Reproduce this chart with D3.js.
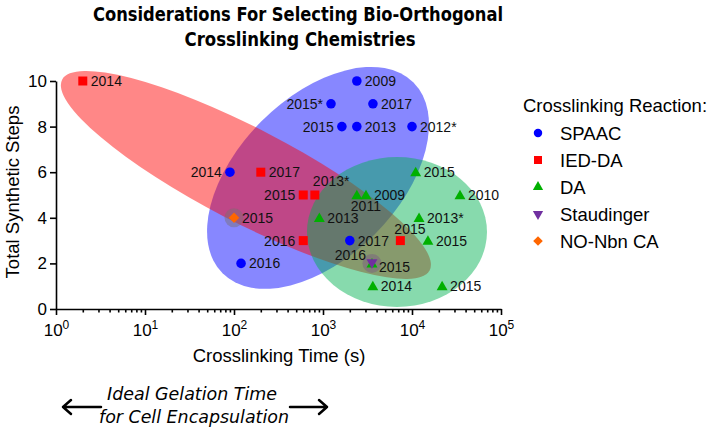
<!DOCTYPE html>
<html><head><meta charset="utf-8">
<script src="https://cdn.jsdelivr.net/npm/d3@7"></script>
<style>
html,body{margin:0;padding:0;background:#fff;}
svg{display:block;font-family:"Liberation Sans",Arial,sans-serif;}
</style></head>
<body>
<svg id="chart" width="712" height="430"></svg>
<script>
// ---------- DATA ----------
const seriesNames = ["SPAAC", "IED-DA", "DA", "Staudinger", "NO-Nbn CA"];
const spaacTime  = [90, 2400, 1230, 3640, 1630, 2400, 10000, 2000, 120];
const spaacSteps = [6, 10, 9, 9, 8, 8, 8, 3, 2];
const spaacYear  = ["2014","2009","2015*","2017","2015","2013","2012*","2017","2016"];
const spaacSide  = ["l","r","l","r","l","r","r","r","r"];

const iedTime  = [2, 200, 600, 810, 600, 7400];
const iedSteps = [10, 6, 5, 5, 3, 3];
const iedYear  = ["2014","2017","2015","2013*","2016","2015"];
const iedSide  = ["r","r","l","tr","l","tl"];

const daTime  = [11000, 3040, 2400, 34600, 910, 12000, 15100, 3550, 3630, 21800];
const daSteps = [6, 5, 5, 5, 4, 4, 3, 2, 1, 1];
const daYear  = ["2015","2009","2011","2010","2013","2013*","2015","2015","2014","2015"];
const daSide  = ["r","r","b","r","r","r","r","br","r","r"];

const staTime  = [3550];
const staSteps = [2];
const staYear  = ["2016"];
const staSide  = ["sl"];

const nbnTime  = [100];
const nbnSteps = [4];
const nbnYear  = ["2015"];
const nbnSide  = ["r"];

const xTickExponents = [0, 1, 2, 3, 4, 5];
const yTickValues = [0, 2, 4, 6, 8, 10];

// ---------- LAYOUT / STYLE ----------
const svg = d3.select("#chart");
const x = d3.scaleLog().domain([1, 1e5]).range([56, 501]);
const y = d3.scaleLinear().domain([0, 10]).range([309, 81]);

const colors = {"SPAAC":"#0000ff","IED-DA":"#ff0000","DA":"#00b000","Staudinger":"#7030a0","NO-Nbn CA":"#ff6600"};
const symType = {"SPAAC": d3.symbolCircle, "IED-DA": d3.symbolSquare, "DA": d3.symbolTriangle,
                 "Staudinger": d3.symbolTriangle, "NO-Nbn CA": d3.symbolSquare};
const symSize = {"SPAAC": 72, "IED-DA": 81, "DA": 52, "Staudinger": 52, "NO-Nbn CA": 56};
const legSize = {"SPAAC": 56, "IED-DA": 64, "DA": 46, "Staudinger": 46, "NO-Nbn CA": 46};
const rot = {"Staudinger": 180, "NO-Nbn CA": 45};

// ellipses: center in data units, semi-axes in px, rotation deg
const ellipses = [
  {cx: 879, cy: 5.75, a: 135, b: 80, ang: -45, fill: "rgba(0,0,255,0.47)"},
  {cx: 136, cy: 5.88, a: 207, b: 47, ang: 27.4, fill: "rgba(255,0,0,0.47)"},
  {cx: 6780, cy: 3.38, a: 90, b: 75, ang: 0, fill: "rgba(0,176,80,0.47)"}
];
svg.append("g").selectAll("ellipse").data(ellipses).join("ellipse")
  .attr("transform", d => `translate(${x(d.cx)},${y(d.cy)}) rotate(${d.ang})`)
  .attr("rx", d => d.a).attr("ry", d => d.b)
  .attr("fill", d => d.fill);

// halos
const halos = [{t: nbnTime[0], s: nbnSteps[0], fill:"rgba(120,110,110,0.45)"},
               {t: staTime[0], s: staSteps[0], fill:"rgba(120,90,130,0.45)"}];
svg.append("g").selectAll("circle").data(halos).join("circle")
  .attr("cx", d => x(d.t)).attr("cy", d => y(d.s)).attr("r", 9.5).attr("fill", d => d.fill);

// ---------- AXES ----------
const minorTicks = [];
xTickExponents.forEach(e => { if (e < 5) for (let k = 2; k <= 9; k++) minorTicks.push(k * Math.pow(10, e)); });
const majorTicks = xTickExponents.map(e => Math.pow(10, e));

const xAxis = svg.append("g").attr("transform", "translate(0,309)")
  .call(d3.axisBottom(x).tickValues(majorTicks.concat(minorTicks)).tickSize(6).tickSizeOuter(0).tickFormat(""));
xAxis.selectAll(".tick line").attr("y2", d => majorTicks.includes(d) ? 6 : 3.5);
xAxis.selectAll("path, line").attr("stroke", "#000").attr("stroke-width", 1.6);
xAxis.selectAll(".tick").filter(d => majorTicks.includes(d))
  .append("text").attr("y", 27).attr("fill", "#000").attr("text-anchor", "middle")
  .style("font-size", "17px")
  .each(function(d) {
    const t = d3.select(this);
    t.append("tspan").text("10");
    t.append("tspan").attr("dy", -7).style("font-size", "12px").text(Math.round(Math.log10(d)));
  });

const yAxis = svg.append("g").attr("transform", "translate(56,0)")
  .call(d3.axisLeft(y).tickValues(yTickValues).tickSize(6).tickSizeOuter(0).tickPadding(3));
yAxis.selectAll("path, line").attr("stroke", "#000").attr("stroke-width", 1.6);
yAxis.selectAll("text").attr("fill", "#000").style("font-size", "17px")
  .style("font-family", '"Liberation Sans",Arial,sans-serif');

svg.append("text").attr("x", 279).attr("y", 362).attr("text-anchor", "middle")
  .style("font-size", "18.5px").text("Crosslinking Time (s)");
svg.append("text").attr("transform", "translate(19,192) rotate(-90)").attr("text-anchor", "middle")
  .style("font-size", "18.5px").text("Total Synthetic Steps");

// ---------- POINTS ----------
const allSeries = [
  {name: "SPAAC", t: spaacTime, s: spaacSteps, yr: spaacYear, side: spaacSide},
  {name: "IED-DA", t: iedTime, s: iedSteps, yr: iedYear, side: iedSide},
  {name: "DA", t: daTime, s: daSteps, yr: daYear, side: daSide},
  {name: "Staudinger", t: staTime, s: staSteps, yr: staYear, side: staSide},
  {name: "NO-Nbn CA", t: nbnTime, s: nbnSteps, yr: nbnYear, side: nbnSide}
];
const pts = [];
allSeries.forEach(sr => sr.t.forEach((t, i) => pts.push({name: sr.name, t, s: sr.s[i], yr: sr.yr[i], side: sr.side[i]})));

const lblOff = {
  r: {dx: 8, dy: 5, anchor: "start"},
  l: {dx: -8, dy: 5, anchor: "end"},
  tr: {dx: -2, dy: -9, anchor: "start"},
  tl: {dx: -6, dy: -7, anchor: "start"},
  b: {dx: -6, dy: 16, anchor: "start"},
  br: {dx: 7, dy: 9, anchor: "start"},
  sl: {dx: -6, dy: -3, anchor: "end"}
};
const yShift = {"DA": 1, "Staudinger": -1};
svg.append("g").selectAll("path").data(pts).join("path")
  .attr("d", d => d3.symbol(symType[d.name], symSize[d.name])())
  .attr("transform", d => `translate(${x(d.t)},${y(d.s) + (yShift[d.name] || 0)})` + (rot[d.name] ? ` rotate(${rot[d.name]})` : ""))
  .attr("fill", d => colors[d.name]);

svg.append("g").selectAll("text").data(pts).join("text")
  .attr("x", d => x(d.t) + lblOff[d.side].dx)
  .attr("y", d => y(d.s) + lblOff[d.side].dy)
  .attr("text-anchor", d => lblOff[d.side].anchor)
  .style("font-size", "14px").attr("fill", "#111").text(d => d.yr);

// ---------- LEGEND ----------
const lg = svg.append("g");
lg.append("text").attr("x", 523).attr("y", 112).style("font-size", "18.5px").text("Crosslinking Reaction:");
const legY = d3.scalePoint().domain(seriesNames).range([133, 241]);
const li = lg.selectAll("g.item").data(seriesNames).join("g").attr("class", "item")
  .attr("transform", d => `translate(538,${legY(d)})`);
li.append("path").attr("d", d => d3.symbol(symType[d], legSize[d])())
  .attr("transform", d => rot[d] ? `rotate(${rot[d]})` : null)
  .attr("fill", d => colors[d]);
li.append("text").attr("x", 22).attr("y", 7).style("font-size", "18.5px").text(d => d);

// ---------- TITLE ----------
const tf = '"Liberation Sans Narrow","DejaVu Sans Condensed",Arial,sans-serif';
svg.append("text").attr("x", 298).attr("y", 21).attr("text-anchor", "middle")
  .style("font-family", tf).style("font-weight", "bold").style("font-size", "19px")
  .attr("textLength", 410).attr("lengthAdjust", "spacingAndGlyphs")
  .text("Considerations For Selecting Bio-Orthogonal");
svg.append("text").attr("x", 300).attr("y", 46).attr("text-anchor", "middle")
  .style("font-family", tf).style("font-weight", "bold").style("font-size", "19px")
  .attr("textLength", 231).attr("lengthAdjust", "spacingAndGlyphs")
  .text("Crosslinking Chemistries");

// ---------- ANNOTATION ----------
svg.append("text").attr("x", 192).attr("y", 400).attr("text-anchor", "middle")
  .style("font-family", tf).style("font-style", "italic").style("font-size", "18px")
  .attr("textLength", 170).attr("lengthAdjust", "spacingAndGlyphs").text("Ideal Gelation Time");
svg.append("text").attr("x", 194).attr("y", 423).attr("text-anchor", "middle")
  .style("font-family", tf).style("font-style", "italic").style("font-size", "18px")
  .attr("textLength", 190).attr("lengthAdjust", "spacingAndGlyphs").text("for Cell Encapsulation");
const arr = svg.append("g").attr("stroke", "#000").attr("stroke-width", 2.5).attr("fill", "none")
  .attr("stroke-linecap", "round").attr("stroke-linejoin", "round");
arr.append("path").attr("d", "M101,407 L63,407 M71,400 L63,407 L71,414");
arr.append("path").attr("d", "M290,407 L327,407 M319,400 L327,407 L319,414");
</script>
</body></html>
